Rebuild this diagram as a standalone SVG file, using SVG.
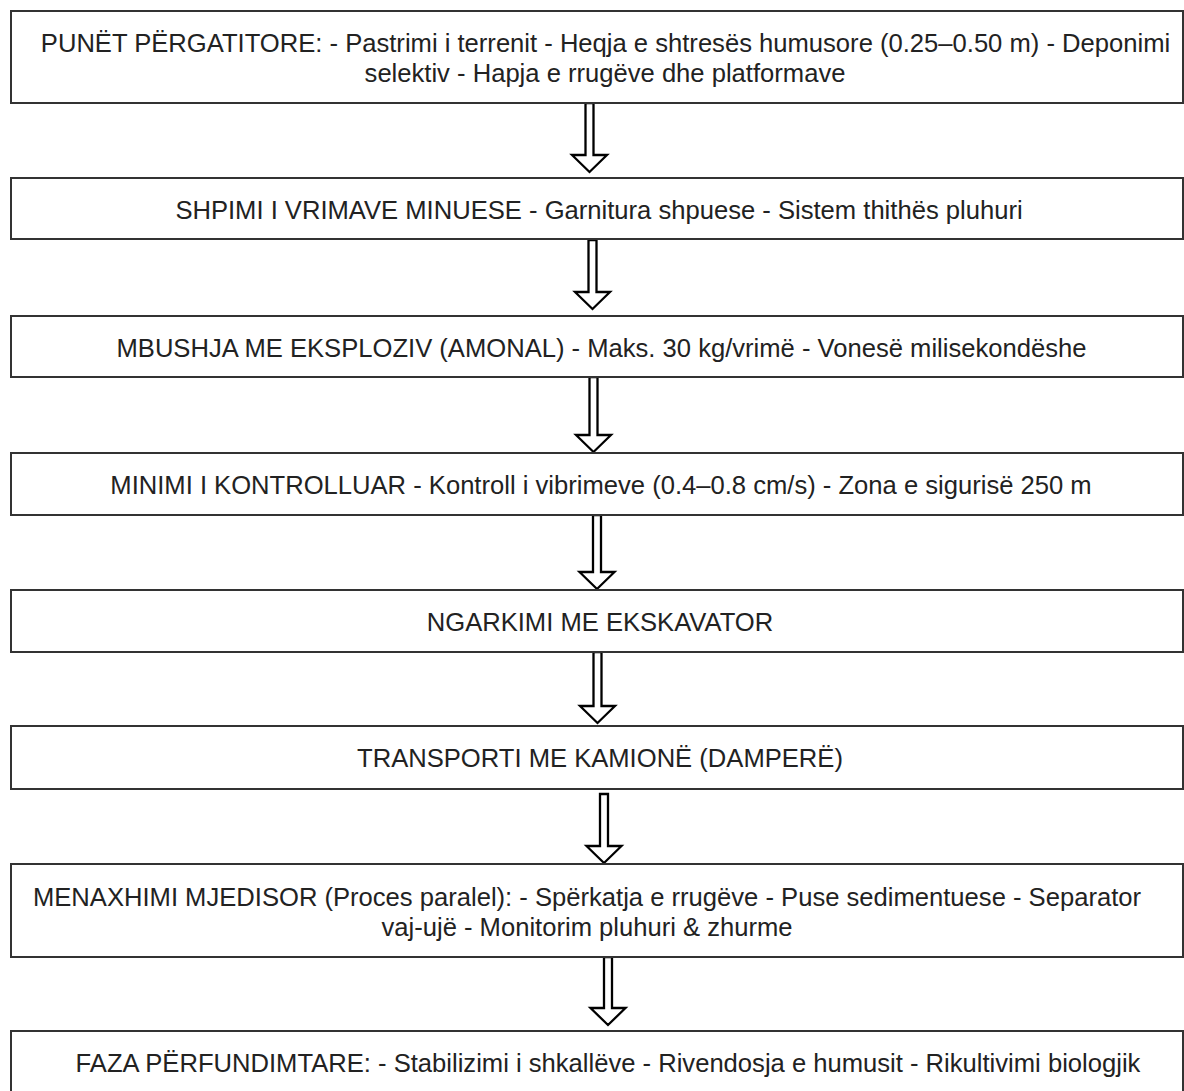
<svg xmlns="http://www.w3.org/2000/svg" width="1184" height="1091" viewBox="0 0 1184 1091">
<style>
.box{fill:#fff;stroke:#333;stroke-width:2}
.t{font-family:"Liberation Sans",Arial,sans-serif;font-size:25.6px;fill:#222;text-anchor:middle}
.arr{fill:#fff;stroke:#000;stroke-width:2.3;stroke-linejoin:miter}
</style>
<rect width="1184" height="1091" fill="#fff"/>
<g id="connectors">
<path class="arr" d="M585.5 103 L593.5 103 L593.5 155 L607 155 L589.5 172 L572 155 L585.5 155 Z"/>
<path class="arr" d="M588.5 240 L596.5 240 L596.5 292 L610 292 L592.5 309 L575 292 L588.5 292 Z"/>
<path class="arr" d="M589.5 377 L597.5 377 L597.5 435 L611 435 L593.5 452 L576 435 L589.5 435 Z"/>
<path class="arr" d="M593 515 L601 515 L601 572 L614.5 572 L597 589 L579.5 572 L593 572 Z"/>
<path class="arr" d="M593.5 652 L601.5 652 L601.5 706 L615 706 L597.5 723 L580 706 L593.5 706 Z"/>
<path class="arr" d="M600 794 L608 794 L608 846 L621.5 846 L604 863 L586.5 846 L600 846 Z"/>
<path class="arr" d="M604 957 L612 957 L612 1008 L625.5 1008 L608 1025 L590.5 1008 L604 1008 Z"/>
</g>
<g id="node1">
<rect class="box" x="11" y="11" width="1172" height="92"/>
<text class="t" x="605.5" y="52">PUNËT PËRGATITORE: - Pastrimi i terrenit - Heqja e shtresës humusore (0.25–0.50 m) - Deponimi</text>
<text class="t" x="605" y="82">selektiv - Hapja e rrugëve dhe platformave</text>
</g>
<g id="node2">
<rect class="box" x="11" y="178" width="1172" height="61"/>
<text class="t" x="599" y="219">SHPIMI I VRIMAVE MINUESE - Garnitura shpuese - Sistem thithës pluhuri</text>
</g>
<g id="node3">
<rect class="box" x="11" y="316" width="1172" height="61"/>
<text class="t" x="601.5" y="357">MBUSHJA ME EKSPLOZIV (AMONAL) - Maks. 30 kg/vrimë - Vonesë milisekondëshe</text>
</g>
<g id="node4">
<rect class="box" x="11" y="453" width="1172" height="62"/>
<text class="t" x="601" y="494">MINIMI I KONTROLLUAR - Kontroll i vibrimeve (0.4–0.8 cm/s) - Zona e sigurisë 250 m</text>
</g>
<g id="node5">
<rect class="box" x="11" y="590" width="1172" height="62"/>
<text class="t" x="600" y="631">NGARKIMI ME EKSKAVATOR</text>
</g>
<g id="node6">
<rect class="box" x="11" y="726" width="1172" height="63"/>
<text class="t" x="600" y="767">TRANSPORTI ME KAMIONË (DAMPERË)</text>
</g>
<g id="node7">
<rect class="box" x="11" y="864" width="1172" height="93"/>
<text class="t" x="587" y="906">MENAXHIMI MJEDISOR (Proces paralel): - Spërkatja e rrugëve - Puse sedimentuese - Separator</text>
<text class="t" x="587" y="936">vaj-ujë - Monitorim pluhuri &amp; zhurme</text>
</g>
<g id="node8">
<rect class="box" x="11" y="1031" width="1172" height="62"/>
<text class="t" x="608" y="1072">FAZA PËRFUNDIMTARE: - Stabilizimi i shkallëve - Rivendosja e humusit - Rikultivimi biologjik</text>
</g>
</svg>
